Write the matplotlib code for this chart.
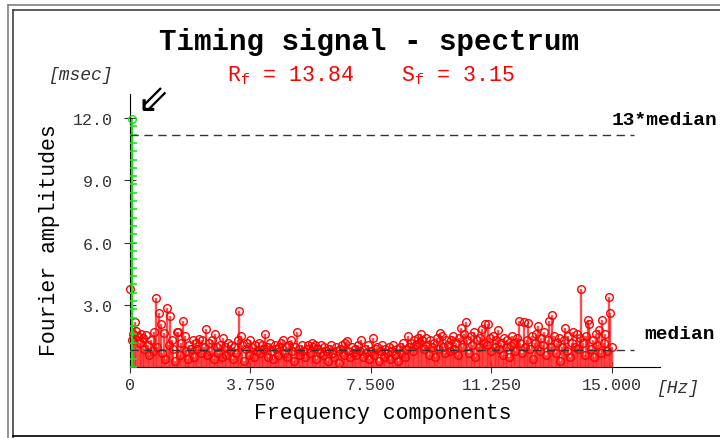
import numpy as np
import matplotlib
matplotlib.use('Agg')
from matplotlib import pyplot as plt
from matplotlib.lines import Line2D

#spectrum values (amplitude in msec, one every 0.05 Hz)
freq_step = 0.05
amps = [3.77, 1.3, 1.6, 2.2, 1.75, 1.5, 1.2, 1.6, 1.4, 0.9, 1.55, 1.1, 0.6, 1.3, 0.8, 1.7, 3.34, 1.0, 2.6, 2.1,
        0.7, 1.65, 0.4, 2.86, 1.1, 2.48, 1.3, 0.9, 0.3, 1.7, 1.7, 0.6, 1.2, 2.24, 1.5, 0.8, 0.4, 1.1, 0.9, 1.3,
        0.5, 1.2, 0.9, 1.35, 0.7, 1.3, 1.0, 1.85, 0.6, 1.2, 0.8, 1.3, 0.4, 1.6, 1.0, 0.7, 1.1, 0.5, 1.4, 1.0,
        0.6, 1.2, 0.8, 1.1, 0.4, 1.0, 0.7, 1.3, 2.7, 1.5, 1.1, 0.3, 0.9, 1.2, 0.6, 1.3, 1.0, 0.5, 1.1, 0.8,
        1.2, 0.7, 1.1, 0.9, 1.6, 1.0, 0.5, 1.2, 0.8, 0.4, 1.1, 0.9, 0.6, 1.0, 1.2, 1.3, 0.7, 1.0, 0.5, 1.1,
        1.34, 0.8, 0.3, 1.0, 1.69, 0.9, 0.6, 1.1, 0.8, 0.5, 0.9, 1.1, 0.7, 1.2, 1.0, 1.06, 0.4, 0.9, 0.7, 1.1,
        0.6, 1.0, 0.8, 0.3, 0.9, 1.1, 0.7, 0.5, 1.0, 0.8, 0.2, 0.9, 1.1, 0.6, 1.2, 1.27, 0.8, 0.5, 1.0, 0.7,
        0.9, 0.6, 1.1, 0.8, 1.34, 0.5, 0.9, 0.7, 1.1, 0.4, 0.8, 1.42, 0.6, 0.9, 1.0, 0.3, 0.8, 1.1, 0.5, 0.9,
        0.7, 1.0, 0.4, 0.8, 1.1, 0.6, 0.9, 0.3, 1.0, 0.7, 1.2, 0.5, 0.9, 1.53, 1.0, 1.2, 0.8, 1.3, 1.1, 1.4,
        1.2, 1.6, 1.3, 0.9, 1.4, 1.1, 0.6, 1.3, 1.0, 1.2, 0.5, 1.4, 0.9, 1.66, 1.5, 1.0, 0.7, 1.3, 1.1, 0.8,
        1.3, 1.5, 0.9, 1.2, 0.6, 1.4, 1.9, 1.0, 1.6, 2.2, 1.3, 0.7, 1.5, 1.1, 1.7, 0.5, 1.3, 1.0, 1.4, 1.85,
        1.2, 2.1, 1.1, 2.09, 1.4, 0.8, 1.5, 1.0, 1.3, 1.8, 0.9, 1.2, 0.6, 1.4, 1.0, 1.3, 0.5, 1.1, 1.5, 1.2,
        0.8, 1.4, 2.24, 1.2, 0.7, 2.17, 1.0, 1.3, 2.12, 0.9, 1.5, 0.4, 1.2, 1.6, 1.98, 0.8, 1.4, 1.1, 1.7, 0.6,
        1.3, 2.22, 1.0, 2.52, 1.5, 0.7, 1.2, 1.4, 0.3, 1.0, 1.3, 1.9, 0.8, 1.5, 0.5, 1.2, 1.7, 1.0, 1.6, 0.9,
        1.4, 3.77, 1.2, 0.6, 1.5, 2.3, 2.1, 0.9, 1.3, 0.5, 1.6, 1.1, 1.8, 0.7, 2.27, 1.2, 1.6, 0.8, 3.39, 2.63,
        1.0]
freqs = np.arange(len(amps)) * freq_step

#dominant component (drawn green)
peak_freq = 0.05
peak_amp = 11.95

median_amp = 0.86
R_f = 13.84
S_f = 3.15
xticks = [0, 3.75, 7.5, 11.25, 15.0]
xtick_labels = ['0', '3.750', '7.500', '11.250', '15.000']
yticks = [3.0, 6.0, 9.0, 12.0]

mono = 'Liberation Mono'
plt.rcParams['font.family'] = mono
plt.rcParams['mathtext.fontset'] = 'custom'
plt.rcParams['mathtext.rm'] = mono

fig = plt.figure(figsize=(7.2, 4.39), dpi=100)
ax = fig.add_axes([0.1806, 0.1606, 0.7361, 0.6230])

#frame around the whole picture
for x0, y0, c in [(8, 6, '#808080'), (13, 11, '#404040')]:
    fig.add_artist(Line2D([x0/720, 1], [1-y0/439, 1-y0/439], transform=fig.transFigure, color=c, lw=1.2))
    fig.add_artist(Line2D([x0/720, x0/720], [1-y0/439, 0], transform=fig.transFigure, color=c, lw=1.2))
fig.add_artist(Line2D([13/720, 1], [1-437/439, 1-437/439], transform=fig.transFigure, color='black', lw=1.2))

#red stems
ax.vlines(freqs, 0, amps, colors='#ff2020', lw=1.7, alpha=0.8, zorder=2)
ax.plot(freqs, amps, 'o', ms=5.5, mfc='none', mec='red', mew=1.0, zorder=3, clip_on=False)

#green stem with small crossbars
ax.vlines([peak_freq], 0, [peak_amp], colors='#22dd22', lw=1.5, zorder=4)
ax.plot(np.full(30, peak_freq), np.arange(30) * 0.4, '_', color='#22dd22', ms=7, mew=1.2, zorder=4)
ax.plot([peak_freq], [peak_amp], 'o', ms=5.5, mfc='none', mec='#22dd22', mew=1.0, zorder=5, clip_on=False)

#median lines
ax.plot([0, 15.7], [median_amp, median_amp], '--', color='#333333', lw=1, dashes=(6, 4), zorder=5)
ax.plot([0, 15.7], [13*median_amp, 13*median_amp], '--', color='#333333', lw=1, dashes=(6, 4), zorder=5)
ax.text(15.0, 13*median_amp + 0.35, '13*median', fontsize=14, fontweight='bold', ha='left', va='bottom')
ax.text(16.02, median_amp + 0.35, 'median', fontsize=14, fontweight='bold', ha='left', va='bottom')

ax.text(0.7, 12.85, '\u21d9', fontsize=28, ha='center', va='center', family='DejaVu Sans')

ax.set_xlim(0, 16.5)
ax.set_ylim(0, 13.15)
ax.spines['top'].set_visible(False)
ax.spines['right'].set_visible(False)
ax.set_xticks(xticks)
ax.set_xticklabels(xtick_labels)
ax.set_yticks(yticks)
ax.set_yticklabels(['%.1f' % t for t in yticks])
ax.tick_params(direction='inout', length=9, labelsize=12, colors='#333333')
ax.tick_params(axis='x', pad=2)
ax.tick_params(axis='y', pad=8)
ax.set_xlabel('Frequency components', fontsize=15.5)
ax.set_ylabel('Fourier amplitudes', fontsize=15.5)
ax.xaxis.set_label_coords(0.477, -0.126)
ax.yaxis.set_label_coords(-0.132, 0.47)

fig.text(0.513, 0.905, 'Timing signal - spectrum', fontsize=21, fontweight='bold', ha='center', va='center')
fig.text(0.111, 0.828, '[msec]', fontsize=13, style='italic', ha='center', va='center', color='#333333')
fig.text(0.315, 0.828, 'R$_\\mathrm{f}$ = %.2f' % R_f, fontsize=15.5, color='red', ha='left', va='center')
fig.text(0.557, 0.828, 'S$_\\mathrm{f}$ = %.2f' % S_f, fontsize=15.5, color='red', ha='left', va='center')
fig.text(0.941, 0.116, '[Hz]', fontsize=13, style='italic', ha='center', va='center', color='#333333')

plt.savefig('out.png', dpi=100)
